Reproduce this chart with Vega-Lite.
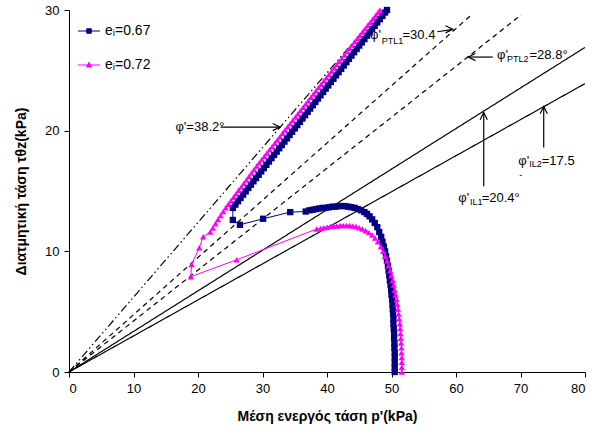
{
 "$schema": "https://vega.github.io/schema/vega-lite/v6.json",
 "width": 516, "height": 362,
 "autosize": "none",
 "padding": {"left": 69, "top": 10, "right": 12, "bottom": 64},
 "background": "white",
 "config": {
  "font": "Liberation Sans",
  "view": {"stroke": null},
  "axis": {"grid": false, "domainColor": "black", "tickColor": "black", "labelColor": "black", "titleColor": "black", "labelFontSize": 13, "titleFontSize": 14, "titleFontWeight": "bold", "tickSize": 5, "labelPadding": 5, "labelFont": "Liberation Sans", "titleFont": "Liberation Sans"}
 },
 "datasets": {
  "series": [
   {"s":"eᵢ=0.67","p":50.5,"q":0},{"s":"eᵢ=0.67","p":50.5,"q":0.4},{"s":"eᵢ=0.67","p":50.5,"q":0.8},{"s":"eᵢ=0.67","p":50.5,"q":1.2},{"s":"eᵢ=0.67","p":50.5,"q":1.6},{"s":"eᵢ=0.67","p":50.45,"q":2.0},{"s":"eᵢ=0.67","p":50.45,"q":2.4},{"s":"eᵢ=0.67","p":50.4,"q":2.8},{"s":"eᵢ=0.67","p":50.4,"q":3.2},{"s":"eᵢ=0.67","p":50.35,"q":3.6},{"s":"eᵢ=0.67","p":50.3,"q":4.0},{"s":"eᵢ=0.67","p":50.3,"q":4.4},{"s":"eᵢ=0.67","p":50.25,"q":4.8},{"s":"eᵢ=0.67","p":50.2,"q":5.2},{"s":"eᵢ=0.67","p":50.15,"q":5.6},{"s":"eᵢ=0.67","p":50.1,"q":6.0},{"s":"eᵢ=0.67","p":50.0,"q":6.4},{"s":"eᵢ=0.67","p":49.95,"q":6.8},{"s":"eᵢ=0.67","p":49.85,"q":7.2},{"s":"eᵢ=0.67","p":49.75,"q":7.6},{"s":"eᵢ=0.67","p":49.65,"q":8.0},{"s":"eᵢ=0.67","p":49.55,"q":8.4},{"s":"eᵢ=0.67","p":49.45,"q":8.8},{"s":"eᵢ=0.67","p":49.3,"q":9.2},{"s":"eᵢ=0.67","p":49.15,"q":9.6},{"s":"eᵢ=0.67","p":49.0,"q":10.0},{"s":"eᵢ=0.67","p":48.8,"q":10.4},{"s":"eᵢ=0.67","p":48.6,"q":10.8},{"s":"eᵢ=0.67","p":48.4,"q":11.2},{"s":"eᵢ=0.67","p":48.1,"q":11.6},{"s":"eᵢ=0.67","p":47.8,"q":12.0},{"s":"eᵢ=0.67","p":47.4,"q":12.35},{"s":"eᵢ=0.67","p":47.0,"q":12.65},{"s":"eᵢ=0.67","p":46.6,"q":12.9},{"s":"eᵢ=0.67","p":46.2,"q":13.1},{"s":"eᵢ=0.67","p":45.8,"q":13.25},{"s":"eᵢ=0.67","p":45.3,"q":13.4},{"s":"eᵢ=0.67","p":44.8,"q":13.5},{"s":"eᵢ=0.67","p":44.3,"q":13.6},{"s":"eᵢ=0.67","p":43.8,"q":13.65},{"s":"eᵢ=0.67","p":43.3,"q":13.7},{"s":"eᵢ=0.67","p":42.8,"q":13.75},{"s":"eᵢ=0.67","p":42.3,"q":13.75},{"s":"eᵢ=0.67","p":41.8,"q":13.75},{"s":"eᵢ=0.67","p":41.3,"q":13.7},{"s":"eᵢ=0.67","p":40.8,"q":13.7},{"s":"eᵢ=0.67","p":40.3,"q":13.65},{"s":"eᵢ=0.67","p":39.8,"q":13.6},{"s":"eᵢ=0.67","p":39.3,"q":13.6},{"s":"eᵢ=0.67","p":38.8,"q":13.55},{"s":"eᵢ=0.67","p":38.3,"q":13.5},{"s":"eᵢ=0.67","p":37.8,"q":13.45},{"s":"eᵢ=0.67","p":37.3,"q":13.4},{"s":"eᵢ=0.67","p":36.7,"q":13.3},
   {"s":"eᵢ=0.67","p":34.3,"q":13.25},{"s":"eᵢ=0.67","p":30.1,"q":12.7},{"s":"eᵢ=0.67","p":26.5,"q":12.2},{"s":"eᵢ=0.67","p":25.4,"q":12.6},{"s":"eᵢ=0.67","p":25.4,"q":13.6},
   {"s":"eᵢ=0.67","p":25.8,"q":13.87},{"s":"eᵢ=0.67","p":26.2,"q":14.15},{"s":"eᵢ=0.67","p":26.6,"q":14.42},{"s":"eᵢ=0.67","p":27.0,"q":14.7},{"s":"eᵢ=0.67","p":27.4,"q":14.97},{"s":"eᵢ=0.67","p":27.8,"q":15.25},{"s":"eᵢ=0.67","p":28.2,"q":15.52},{"s":"eᵢ=0.67","p":28.6,"q":15.8},{"s":"eᵢ=0.67","p":29.0,"q":16.07},{"s":"eᵢ=0.67","p":29.4,"q":16.34},{"s":"eᵢ=0.67","p":29.8,"q":16.62},{"s":"eᵢ=0.67","p":30.2,"q":16.89},{"s":"eᵢ=0.67","p":30.6,"q":17.17},{"s":"eᵢ=0.67","p":31.0,"q":17.44},{"s":"eᵢ=0.67","p":31.4,"q":17.72},{"s":"eᵢ=0.67","p":31.8,"q":17.99},{"s":"eᵢ=0.67","p":32.2,"q":18.26},{"s":"eᵢ=0.67","p":32.6,"q":18.54},{"s":"eᵢ=0.67","p":33.0,"q":18.81},{"s":"eᵢ=0.67","p":33.4,"q":19.09},{"s":"eᵢ=0.67","p":33.8,"q":19.36},{"s":"eᵢ=0.67","p":34.2,"q":19.64},{"s":"eᵢ=0.67","p":34.6,"q":19.91},{"s":"eᵢ=0.67","p":35.0,"q":20.19},{"s":"eᵢ=0.67","p":35.4,"q":20.46},{"s":"eᵢ=0.67","p":35.8,"q":20.73},{"s":"eᵢ=0.67","p":36.2,"q":21.01},{"s":"eᵢ=0.67","p":36.6,"q":21.28},{"s":"eᵢ=0.67","p":37.0,"q":21.56},{"s":"eᵢ=0.67","p":37.4,"q":21.83},{"s":"eᵢ=0.67","p":37.8,"q":22.11},{"s":"eᵢ=0.67","p":38.2,"q":22.38},{"s":"eᵢ=0.67","p":38.6,"q":22.66},{"s":"eᵢ=0.67","p":39.0,"q":22.93},{"s":"eᵢ=0.67","p":39.4,"q":23.2},{"s":"eᵢ=0.67","p":39.8,"q":23.48},{"s":"eᵢ=0.67","p":40.2,"q":23.75},{"s":"eᵢ=0.67","p":40.6,"q":24.03},{"s":"eᵢ=0.67","p":41.0,"q":24.3},{"s":"eᵢ=0.67","p":41.4,"q":24.58},{"s":"eᵢ=0.67","p":41.8,"q":24.85},{"s":"eᵢ=0.67","p":42.2,"q":25.12},{"s":"eᵢ=0.67","p":42.6,"q":25.4},{"s":"eᵢ=0.67","p":43.0,"q":25.67},{"s":"eᵢ=0.67","p":43.4,"q":25.95},{"s":"eᵢ=0.67","p":43.8,"q":26.22},{"s":"eᵢ=0.67","p":44.2,"q":26.5},{"s":"eᵢ=0.67","p":44.6,"q":26.77},{"s":"eᵢ=0.67","p":45.0,"q":27.05},{"s":"eᵢ=0.67","p":45.4,"q":27.32},{"s":"eᵢ=0.67","p":45.8,"q":27.59},{"s":"eᵢ=0.67","p":46.2,"q":27.87},{"s":"eᵢ=0.67","p":46.6,"q":28.14},{"s":"eᵢ=0.67","p":47.0,"q":28.42},{"s":"eᵢ=0.67","p":47.4,"q":28.69},{"s":"eᵢ=0.67","p":47.8,"q":28.97},{"s":"eᵢ=0.67","p":48.2,"q":29.24},{"s":"eᵢ=0.67","p":48.6,"q":29.51},{"s":"eᵢ=0.67","p":49.0,"q":29.79},{"s":"eᵢ=0.67","p":49.3,"q":30.0},

   {"s":"eᵢ=0.72","p":51.6,"q":0},{"s":"eᵢ=0.72","p":51.6,"q":0.4},{"s":"eᵢ=0.72","p":51.6,"q":0.8},{"s":"eᵢ=0.72","p":51.6,"q":1.2},{"s":"eᵢ=0.72","p":51.55,"q":1.6},{"s":"eᵢ=0.72","p":51.55,"q":2.0},{"s":"eᵢ=0.72","p":51.5,"q":2.4},{"s":"eᵢ=0.72","p":51.45,"q":2.8},{"s":"eᵢ=0.72","p":51.4,"q":3.2},{"s":"eᵢ=0.72","p":51.35,"q":3.6},{"s":"eᵢ=0.72","p":51.3,"q":4.0},{"s":"eᵢ=0.72","p":51.2,"q":4.4},{"s":"eᵢ=0.72","p":51.1,"q":4.8},{"s":"eᵢ=0.72","p":51.0,"q":5.2},{"s":"eᵢ=0.72","p":50.9,"q":5.6},{"s":"eᵢ=0.72","p":50.8,"q":6.0},{"s":"eᵢ=0.72","p":50.65,"q":6.4},{"s":"eᵢ=0.72","p":50.5,"q":6.8},{"s":"eᵢ=0.72","p":50.35,"q":7.2},{"s":"eᵢ=0.72","p":50.2,"q":7.6},{"s":"eᵢ=0.72","p":50.0,"q":8.0},{"s":"eᵢ=0.72","p":49.8,"q":8.4},{"s":"eᵢ=0.72","p":49.55,"q":8.8},{"s":"eᵢ=0.72","p":49.3,"q":9.2},{"s":"eᵢ=0.72","p":49.0,"q":9.6},{"s":"eᵢ=0.72","p":48.7,"q":10.0},{"s":"eᵢ=0.72","p":48.35,"q":10.4},{"s":"eᵢ=0.72","p":47.9,"q":10.8},{"s":"eᵢ=0.72","p":47.45,"q":11.1},{"s":"eᵢ=0.72","p":47.0,"q":11.35},{"s":"eᵢ=0.72","p":46.5,"q":11.55},{"s":"eᵢ=0.72","p":46.0,"q":11.7},{"s":"eᵢ=0.72","p":45.5,"q":11.85},{"s":"eᵢ=0.72","p":45.0,"q":11.95},{"s":"eᵢ=0.72","p":44.5,"q":12.05},{"s":"eᵢ=0.72","p":44.0,"q":12.1},{"s":"eᵢ=0.72","p":43.5,"q":12.15},{"s":"eᵢ=0.72","p":43.0,"q":12.15},{"s":"eᵢ=0.72","p":42.5,"q":12.15},{"s":"eᵢ=0.72","p":42.0,"q":12.15},{"s":"eᵢ=0.72","p":41.5,"q":12.1},{"s":"eᵢ=0.72","p":41.0,"q":12.1},{"s":"eᵢ=0.72","p":40.5,"q":12.05},{"s":"eᵢ=0.72","p":40.0,"q":12.0},{"s":"eᵢ=0.72","p":39.5,"q":11.95},{"s":"eᵢ=0.72","p":39.0,"q":11.9},{"s":"eᵢ=0.72","p":38.4,"q":11.85},
   {"s":"eᵢ=0.72","p":26.0,"q":9.3},{"s":"eᵢ=0.72","p":18.9,"q":7.9},{"s":"eᵢ=0.72","p":19.0,"q":8.9},{"s":"eᵢ=0.72","p":20.2,"q":10.3},{"s":"eᵢ=0.72","p":20.8,"q":11.2},{"s":"eᵢ=0.72","p":21.9,"q":11.6},
   {"s":"eᵢ=0.72","p":22.3,"q":11.94},{"s":"eᵢ=0.72","p":22.7,"q":12.29},{"s":"eᵢ=0.72","p":23.1,"q":12.63},{"s":"eᵢ=0.72","p":23.5,"q":12.97},{"s":"eᵢ=0.72","p":23.9,"q":13.31},{"s":"eᵢ=0.72","p":24.3,"q":13.62},{"s":"eᵢ=0.72","p":24.7,"q":13.9},{"s":"eᵢ=0.72","p":25.1,"q":14.19},{"s":"eᵢ=0.72","p":25.5,"q":14.48},{"s":"eᵢ=0.72","p":25.9,"q":14.77},{"s":"eᵢ=0.72","p":26.3,"q":15.06},{"s":"eᵢ=0.72","p":26.7,"q":15.34},{"s":"eᵢ=0.72","p":27.1,"q":15.63},{"s":"eᵢ=0.72","p":27.5,"q":15.92},{"s":"eᵢ=0.72","p":27.9,"q":16.21},{"s":"eᵢ=0.72","p":28.3,"q":16.5},{"s":"eᵢ=0.72","p":28.7,"q":16.78},{"s":"eᵢ=0.72","p":29.1,"q":17.07},{"s":"eᵢ=0.72","p":29.5,"q":17.34},{"s":"eᵢ=0.72","p":29.9,"q":17.61},{"s":"eᵢ=0.72","p":30.3,"q":17.88},{"s":"eᵢ=0.72","p":30.7,"q":18.15},{"s":"eᵢ=0.72","p":31.1,"q":18.42},{"s":"eᵢ=0.72","p":31.5,"q":18.69},{"s":"eᵢ=0.72","p":31.9,"q":18.96},{"s":"eᵢ=0.72","p":32.3,"q":19.23},{"s":"eᵢ=0.72","p":32.7,"q":19.5},{"s":"eᵢ=0.72","p":33.1,"q":19.78},{"s":"eᵢ=0.72","p":33.5,"q":20.05},{"s":"eᵢ=0.72","p":33.9,"q":20.32},{"s":"eᵢ=0.72","p":34.3,"q":20.59},{"s":"eᵢ=0.72","p":34.7,"q":20.86},{"s":"eᵢ=0.72","p":35.1,"q":21.13},{"s":"eᵢ=0.72","p":35.5,"q":21.4},{"s":"eᵢ=0.72","p":35.9,"q":21.67},{"s":"eᵢ=0.72","p":36.3,"q":21.94},{"s":"eᵢ=0.72","p":36.7,"q":22.21},{"s":"eᵢ=0.72","p":37.1,"q":22.48},{"s":"eᵢ=0.72","p":37.5,"q":22.76},{"s":"eᵢ=0.72","p":37.9,"q":23.03},{"s":"eᵢ=0.72","p":38.3,"q":23.3},{"s":"eᵢ=0.72","p":38.7,"q":23.57},{"s":"eᵢ=0.72","p":39.1,"q":23.84},{"s":"eᵢ=0.72","p":39.5,"q":24.11},{"s":"eᵢ=0.72","p":39.9,"q":24.38},{"s":"eᵢ=0.72","p":40.3,"q":24.65},{"s":"eᵢ=0.72","p":40.7,"q":24.92},{"s":"eᵢ=0.72","p":41.1,"q":25.19},{"s":"eᵢ=0.72","p":41.5,"q":25.46},{"s":"eᵢ=0.72","p":41.9,"q":25.74},{"s":"eᵢ=0.72","p":42.3,"q":26.01},{"s":"eᵢ=0.72","p":42.7,"q":26.28},{"s":"eᵢ=0.72","p":43.1,"q":26.55},{"s":"eᵢ=0.72","p":43.5,"q":26.82},{"s":"eᵢ=0.72","p":43.9,"q":27.09},{"s":"eᵢ=0.72","p":44.3,"q":27.36},{"s":"eᵢ=0.72","p":44.7,"q":27.63},{"s":"eᵢ=0.72","p":45.1,"q":27.9},{"s":"eᵢ=0.72","p":45.5,"q":28.17},{"s":"eᵢ=0.72","p":45.9,"q":28.44},{"s":"eᵢ=0.72","p":46.3,"q":28.72},{"s":"eᵢ=0.72","p":46.7,"q":28.99},{"s":"eᵢ=0.72","p":47.1,"q":29.26},{"s":"eᵢ=0.72","p":47.5,"q":29.53},{"s":"eᵢ=0.72","p":47.9,"q":29.8},{"s":"eᵢ=0.72","p":48.2,"q":30.0}
  ],
  "lines": [
   {"line":"φ'=38.2","p":0,"q":0,"p2":48.4,"q2":30},
   {"line":"PTL1","p":0,"q":0,"p2":62.6,"q2":29.7},
   {"line":"PTL2","p":0,"q":0,"p2":70.1,"q2":29.6},
   {"line":"IL1","p":0,"q":0,"p2":80,"q2":26.9},
   {"line":"IL2","p":0,"q":0,"p2":80,"q2":23.9}
  ],
  "arrows": [
   {"p":23.5,"q":20.3,"p2":32.7,"q2":20.3,"dir":"right"},
   {"p":57.1,"q":28.2,"p2":59.5,"q2":28.4,"dir":"right"},
   {"p":65.7,"q":26.1,"p2":61.9,"q2":26.1,"dir":"left"},
   {"p":64.3,"q":15.4,"p2":64.3,"q2":21.5,"dir":"up"},
   {"p":73.6,"q":18.6,"p2":73.6,"q2":22.0,"dir":"up"}
  ],
  "labels": [
   {"t":"φ'=38.2°","p":16.5,"q":20.32,"k":"m"},
   {"t":"φ'","p":46.67,"q":27.92,"k":"m"},
   {"t":"PTL1","p":48.5,"q":27.45,"k":"s"},
   {"t":"=30.4","p":51.7,"q":27.92,"k":"m"},
   {"t":"φ'","p":66.35,"q":26.26,"k":"m"},
   {"t":"PTL2","p":67.9,"q":25.95,"k":"s"},
   {"t":"=28.8°","p":71.4,"q":26.26,"k":"m"},
   {"t":"φ'","p":60.36,"q":14.39,"k":"m"},
   {"t":"IL1","p":62.17,"q":14.08,"k":"s"},
   {"t":"=20.4°","p":63.98,"q":14.39,"k":"m"},
   {"t":"φ'","p":69.65,"q":17.51,"k":"m"},
   {"t":"IL2","p":71.36,"q":17.2,"k":"s"},
   {"t":"=17.5","p":73.29,"q":17.51,"k":"m"},
   {"t":"-","p":69.8,"q":16.3,"k":"s"}
  ]
 },
 "encoding": {
  "x": {"field": "p", "type": "quantitative", "title": "Μέση ενεργός τάση p'(kPa)", "scale": {"domain": [0, 80], "nice": false}, "axis": {"values": [0,10,20,30,40,50,60,70,80], "titlePadding": 14}},
  "y": {"field": "q", "type": "quantitative", "title": "Διατμητική τάση τθz(kPa)", "scale": {"domain": [0, 30], "nice": false}, "axis": {"values": [0,10,20,30], "titlePadding": 16}}
 },
 "layer": [
  {
   "data": {"name": "lines"},
   "mark": {"type": "rule", "color": "black", "strokeWidth": 1.2},
   "encoding": {
    "x2": {"field": "p2"}, "y2": {"field": "q2"},
    "strokeDash": {"field": "line", "type": "nominal", "legend": null, "scale": {"domain": ["φ'=38.2","PTL1","PTL2","IL1","IL2"], "range": [[8,3,1.5,3,1.5,3],[5,4],[5,4],[1,0],[1,0]]}}
   }
  },
  {
   "data": {"name": "arrows"},
   "mark": {"type": "rule", "color": "black", "strokeWidth": 1.2},
   "encoding": {"x2": {"field": "p2"}, "y2": {"field": "q2"}}
  },
  {
   "data": {"name": "arrows"},
   "transform": [{"filter": "datum.dir === 'right'"}],
   "mark": {"type": "point", "filled": false, "stroke": "black", "strokeWidth": 1.2, "opacity": 1, "size": 64, "shape": "M-1.8,-0.9L0,0L-1.8,0.9"},
   "encoding": {
    "x": {"field": "p2", "type": "quantitative", "title": "Μέση ενεργός τάση p'(kPa)"},
    "y": {"field": "q2", "type": "quantitative", "title": "Διατμητική τάση τθz(kPa)"}
   }
  },
  {
   "data": {"name": "arrows"},
   "transform": [{"filter": "datum.dir === 'left'"}],
   "mark": {"type": "point", "filled": false, "stroke": "black", "strokeWidth": 1.2, "opacity": 1, "size": 64, "shape": "M1.8,-0.9L0,0L1.8,0.9"},
   "encoding": {
    "x": {"field": "p2", "type": "quantitative", "title": "Μέση ενεργός τάση p'(kPa)"},
    "y": {"field": "q2", "type": "quantitative", "title": "Διατμητική τάση τθz(kPa)"}
   }
  },
  {
   "data": {"name": "arrows"},
   "transform": [{"filter": "datum.dir === 'up'"}],
   "mark": {"type": "point", "filled": false, "stroke": "black", "strokeWidth": 1.2, "opacity": 1, "size": 64, "shape": "M-0.9,1.8L0,0L0.9,1.8"},
   "encoding": {
    "x": {"field": "p2", "type": "quantitative", "title": "Μέση ενεργός τάση p'(kPa)"},
    "y": {"field": "q2", "type": "quantitative", "title": "Διατμητική τάση τθz(kPa)"}
   }
  },
  {
   "data": {"name": "series"},
   "mark": {"type": "line", "strokeWidth": 1},
   "encoding": {
    "order": {"value": null},
    "color": {"field": "s", "type": "nominal", "scale": {"domain": ["eᵢ=0.67","eᵢ=0.72"], "range": ["#000080","#FF00FF"]},
      "legend": {"orient": "none", "legendX": 13, "legendY": 14, "title": null, "labelFontSize": 14, "labelFont": "Liberation Sans", "labelColor": "black", "symbolSize": 100, "rowPadding": 20, "labelOffset": 9, "symbolType": "M-2.2,0L2.2,0",
        "encode": {"symbols": {"update": {
          "shape": {"signal": "datum.value === 'eᵢ=0.67' ? 'M-2.2,0L2.2,0M-0.45,-0.45L0.45,-0.45L0.45,0.45L-0.45,0.45Z' : 'M-2.2,0L2.2,0M0,-0.55L0.5,0.4L-0.5,0.4Z'"},
          "stroke": {"scale": "color", "field": "value"},
          "fill": {"scale": "color", "field": "value"},
          "fillOpacity": {"value": 1},
          "strokeWidth": {"value": 1},
          "opacity": {"value": 1}
        }}}}}
   }
  },
  {
   "data": {"name": "series"},
   "transform": [{"filter": "datum.s === 'eᵢ=0.67'"}],
   "mark": {"type": "point", "filled": true, "size": 40, "opacity": 1, "shape": "square"},
   "encoding": {"color": {"field": "s", "type": "nominal"}}
  },
  {
   "data": {"name": "series"},
   "transform": [{"filter": "datum.s === 'eᵢ=0.72'"}],
   "mark": {"type": "point", "filled": true, "size": 40, "opacity": 1, "shape": "triangle-up"},
   "encoding": {"color": {"field": "s", "type": "nominal"}}
  },
  {
   "data": {"name": "labels"},
   "mark": {"type": "text", "align": "left", "baseline": "middle", "color": "black", "font": "Liberation Sans"},
   "encoding": {
    "text": {"field": "t"},
    "size": {"field": "k", "type": "nominal", "legend": null, "scale": {"domain": ["m","s"], "range": [13, 9]}}
   }
  }
 ]
}
